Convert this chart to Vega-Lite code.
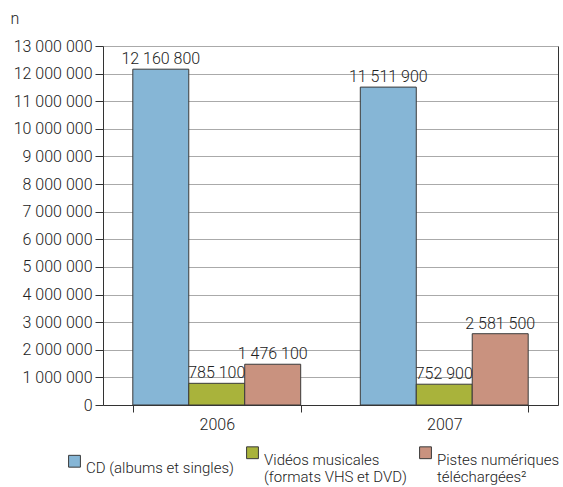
{
  "$schema": "https://vega.github.io/schema/vega-lite/v6.json",
  "autosize": "none",
  "width": 455,
  "height": 359,
  "padding": {"left": 103, "top": 46, "right": 5, "bottom": 82},
  "background": "white",
  "config": {
    "view": {"stroke": null},
    "font": "Roboto",
    "axis": {"labelFont": "Roboto", "labelFontSize": 16, "labelFontWeight": 300, "labelColor": "#222", "titleFont": "Roboto", "titleColor": "#222"},
    "legend": {"labelFont": "Roboto", "labelFontSize": 15, "labelFontWeight": 300, "labelColor": "#222"},
    "text": {"font": "Roboto"}
  },
  "data": {
    "values": [
      {"annee": "2006", "type": "CD (albums et singles)", "ordre": 1, "valeur": 12160800},
      {"annee": "2006", "type": "Vidéos musicales\n(formats VHS et DVD)", "ordre": 2, "valeur": 785100},
      {"annee": "2006", "type": "Pistes numériques\ntéléchargées²", "ordre": 3, "valeur": 1476100},
      {"annee": "2007", "type": "CD (albums et singles)", "ordre": 1, "valeur": 11511900},
      {"annee": "2007", "type": "Vidéos musicales\n(formats VHS et DVD)", "ordre": 2, "valeur": 752900},
      {"annee": "2007", "type": "Pistes numériques\ntéléchargées²", "ordre": 3, "valeur": 2581500}
    ]
  },
  "encoding": {
    "x": {
      "field": "annee", "type": "nominal",
      "scale": {"paddingInner": 0.262, "paddingOuter": 0.131},
      "axis": {"title": null, "labelAngle": 0, "tickBand": "extent", "domainColor": "#333", "tickColor": "#333", "tickSize": 7, "labelPadding": 4, "grid": false}
    },
    "xOffset": {"field": "ordre", "type": "ordinal", "scale": {"paddingInner": 0, "paddingOuter": 0}},
    "y": {
      "field": "valeur", "type": "quantitative",
      "scale": {"domain": [0, 13000000], "nice": false}
    }
  },
  "layer": [
    {
      "mark": {"type": "bar", "stroke": "#3a3a3a", "strokeWidth": 1},
      "encoding": {
        "y": {
          "field": "valeur", "type": "quantitative",
          "scale": {"domain": [0, 13000000], "nice": false},
          "axis": {
            "title": "n", "titleAngle": 0, "titleX": -93, "titleY": -28, "titleAlign": "left", "titleBaseline": "middle", "titleFontSize": 16, "titleFontWeight": 300,
            "values": [0, 1000000, 2000000, 3000000, 4000000, 5000000, 6000000, 7000000, 8000000, 9000000, 10000000, 11000000, 12000000, 13000000],
            "labelExpr": "replace(format(datum.value, ','), /,/g, ' ')",
            "grid": true, "gridColor": "#aaaaaa", "gridWidth": 1,
            "domainColor": "#333", "tickColor": "#333", "tickSize": 8, "labelPadding": 3
          }
        },
        "color": {
          "field": "type", "type": "nominal",
          "sort": ["CD (albums et singles)", "Vidéos musicales\n(formats VHS et DVD)", "Pistes numériques\ntéléchargées²"],
          "scale": {
            "domain": ["CD (albums et singles)", "Vidéos musicales\n(formats VHS et DVD)", "Pistes numériques\ntéléchargées²"],
            "range": ["#86b6d6", "#a9b33b", "#c9927f"]
          },
          "legend": {
            "title": null, "orient": "none", "direction": "horizontal",
            "legendX": -36, "legendY": 399,
            "symbolType": "square", "symbolSize": 140, "symbolStrokeColor": "#3a3a3a", "symbolStrokeWidth": 1, "symbolOpacity": 1,
            "labelExpr": "split(datum.label, '\\n')", "labelBaseline": "top", "labelOffset": 4, "labelLimit": 300,
            "columnPadding": 10
          }
        }
      }
    },
    {
      "mark": {"type": "text", "baseline": "bottom", "dy": -2, "fontSize": 16, "fontWeight": 300, "color": "#222"},
      "encoding": {
        "y": {
          "field": "valeur", "type": "quantitative",
          "scale": {"domain": [0, 13000000], "nice": false},
          "axis": {"orient": "right", "title": null, "labels": false, "ticks": false, "grid": false, "domainColor": "#333"}
        },
        "text": {"field": "label", "type": "nominal"}
      },
      "transform": [{"calculate": "replace(format(datum.valeur, ','), /,/g, ' ')", "as": "label"}]
    }
  ],
  "resolve": {"axis": {"y": "independent"}}
}
